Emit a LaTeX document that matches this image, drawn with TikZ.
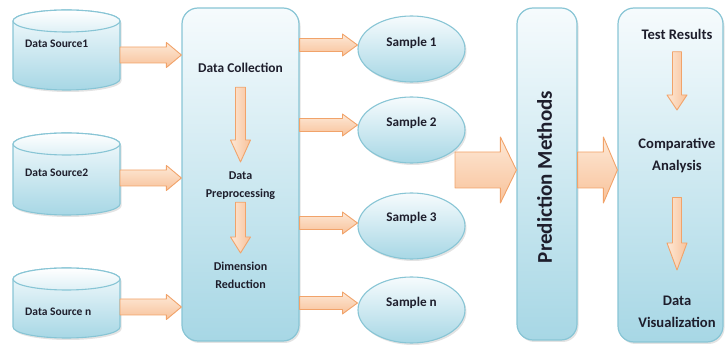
\documentclass[tikz,border=0pt]{standalone}
\usepackage{fontspec}
\setmainfont{Carlito}
\usetikzlibrary{calc,shadows,shapes.geometric}

\definecolor{boxtop}{HTML}{F6FBFD}
\definecolor{boxbot}{HTML}{A7D7E5}
\definecolor{boxline}{HTML}{88C5D5}
\definecolor{arrtop}{HTML}{FDE8D6}
\definecolor{arrbot}{HTML}{F8C29A}
\definecolor{arrline}{HTML}{F1A36A}
\definecolor{txt}{HTML}{1E1E2C}

\tikzset{
  softshadow/.style={drop shadow={opacity=.22, shadow xshift=1.5pt, shadow yshift=-2pt}},
  panel/.style={draw=boxline, line width=1.2pt, rounded corners=16pt,
    top color=boxtop, bottom color=boxbot, softshadow, inner sep=0pt},
  sample/.style={ellipse, draw=boxline, line width=1.1pt, inner sep=0pt,
    minimum width=107pt, minimum height=66pt,
    top color=boxtop, bottom color=boxbot, softshadow},
  cylbody/.style={draw=boxline, line width=1.1pt, top color=boxtop, bottom color=boxbot, softshadow},
  cyltop/.style={draw=boxline, line width=1.1pt, top color=white, bottom color=boxtop!70!boxbot},
  lbl/.style={text=txt, font=\bfseries, inner sep=0pt, align=center},
  srclbl/.style={lbl, font=\bfseries\fontsize{11.5}{13}\selectfont},
  midlbl/.style={lbl, font=\bfseries\fontsize{12}{18}\selectfont},
  smplbl/.style={lbl, font=\bfseries\fontsize{13.2}{15}\selectfont},
  reslbl/.style={lbl, font=\bfseries\fontsize{14.6}{22}\selectfont},
  harr/.style={draw=arrline, line width=0.9pt, line join=round,
    top color=arrtop, bottom color=arrbot},
  varr/.style={draw=arrline, line width=0.9pt, line join=round,
    left color=arrtop, right color=arrbot},
}

% horizontal block arrow: start, end (tip x), body half, head half, head length
\newcommand\harrow[5]{%
  \path[harr] let \p1=#1, \p2=#2 in
    (\x1,\y1+#3pt) -- (\x2-#5pt,\y1+#3pt) -- (\x2-#5pt,\y1+#4pt) -- (\x2,\y1)
    -- (\x2-#5pt,\y1-#4pt) -- (\x2-#5pt,\y1-#3pt) -- (\x1,\y1-#3pt) -- cycle;}

% downward block arrow: start, end (tip y), body half, head half, head length
\newcommand\varrow[5]{%
  \path[varr] let \p1=#1, \p2=#2 in
    (\x1+#3pt,\y1) -- (\x1+#3pt,\y2+#5pt) -- (\x1+#4pt,\y2+#5pt) -- (\x1,\y2)
    -- (\x1-#4pt,\y2+#5pt) -- (\x1-#3pt,\y2+#5pt) -- (\x1-#3pt,\y1) -- cycle;}

% data source drum: name, top y, bottom y, label baseline, label, outlet y
\newcommand\datasource[6]{%
  \path[cylbody] (13,#2+11) -- (13,#3-11)
    arc[start angle=180, end angle=0, x radius=53.5, y radius=11]
    -- (120,#2+11)
    arc[start angle=0, end angle=-180, x radius=53.5, y radius=11] -- cycle;
  \path[cyltop] (66.5,#2+11) ellipse[x radius=53.5, y radius=11];
  \node[srclbl, anchor=base west] (#1) at (25,#4) {#5};
  \coordinate (#1-out) at (120,#6);}

\begin{document}
\begin{tikzpicture}[x=1pt, y=-1pt]
\useasboundingbox (0,0) rectangle (726,347);

% sources
\datasource{ds1}{10}{90}{48}{Data Source1}{55}
\datasource{ds2}{133}{215}{177}{Data Source2}{178}
\datasource{dsn}{268}{338}{316}{Data Source n}{307}

% collection panel
\node[panel, minimum width=117pt, minimum height=333pt] (dc) at (240.5,174.5) {};
\node[lbl, font=\bfseries\fontsize{13.4}{16}\selectfont, anchor=base] (dcl) at (240.5,73) {Data Collection};
\node[midlbl, anchor=north] (dp) at (240.5,172) {Data\\Preprocessing};
\node[midlbl, anchor=north] (dr) at (240.5,262) {Dimension\\Reduction};

% samples
\node[sample, label={[smplbl, yshift=6.5pt]center:Sample 1}] (s1) at (411.5,49) {};
\node[sample, label={[smplbl, yshift=7pt]center:Sample 2}] (s2) at (411.5,130) {};
\node[sample, label={[smplbl, yshift=8pt]center:Sample 3}] (s3) at (411.5,226) {};
\node[sample, label={[smplbl, yshift=7pt]center:Sample n}] (sn) at (411.5,310) {};

% prediction panel
\node[panel, minimum width=60pt, minimum height=332pt] (pm) at (547,174) {};
\node[lbl, font=\bfseries\fontsize{21}{24}\selectfont, rotate=90] (pml) at (544.5,177) {Prediction Methods};

% results panel
\node[panel, minimum width=105pt, minimum height=334pt] (rb) at (670.5,175) {};
\node[reslbl, anchor=north] (tr) at (677,29) {Test Results};
\node[reslbl, anchor=north] (ca) at (677,138) {Comparative\\Analysis};
\node[reslbl, anchor=north] (dv) at (677,296) {Data\\Visualization};

% sources into collection
\harrow{(ds1-out)}{(dc.west |- ds1-out)}{8}{12.5}{15}
\harrow{(ds2-out)}{(dc.west |- ds2-out)}{8}{12.5}{15}
\harrow{(dsn-out)}{(dc.west |- dsn-out)}{8}{12.5}{15}

% steps inside collection
\varrow{($(dcl.south)+(0,14)$)}{($(dp.north)+(0,-10)$)}{5}{10}{22}
\varrow{($(dp.south)+(0,2)$)}{($(dr.north)+(0,-9)$)}{5}{10}{16}

% collection into samples
\harrow{($(dc.east |- s1.west)+(0,-4)$)}{(s1.west)}{6.5}{11}{15}
\harrow{($(dc.east |- s2.west)+(0,-5)$)}{(s2.west)}{6.5}{11}{15}
\harrow{($(dc.east |- s3.west)+(0,-3)$)}{(s3.west)}{6.5}{11}{15}
\harrow{($(dc.east |- sn.west)+(0,-7)$)}{(sn.west)}{6.5}{11}{15}

% samples into prediction, prediction into results
\coordinate (bigin) at (455,170);
\harrow{(bigin)}{(pm.west)}{18}{33}{16}
\harrow{(pm.east |- bigin)}{(rb.west)}{18}{33}{14}

% steps inside results
\varrow{($(tr.south)+(0,12)$)}{($(ca.north)+(0,-28)$)}{4.5}{10}{15}
\varrow{($(ca.south)+(0,24.5)$)}{($(dv.north)+(0,-26)$)}{4.5}{10}{27}
\end{tikzpicture}
\end{document}
